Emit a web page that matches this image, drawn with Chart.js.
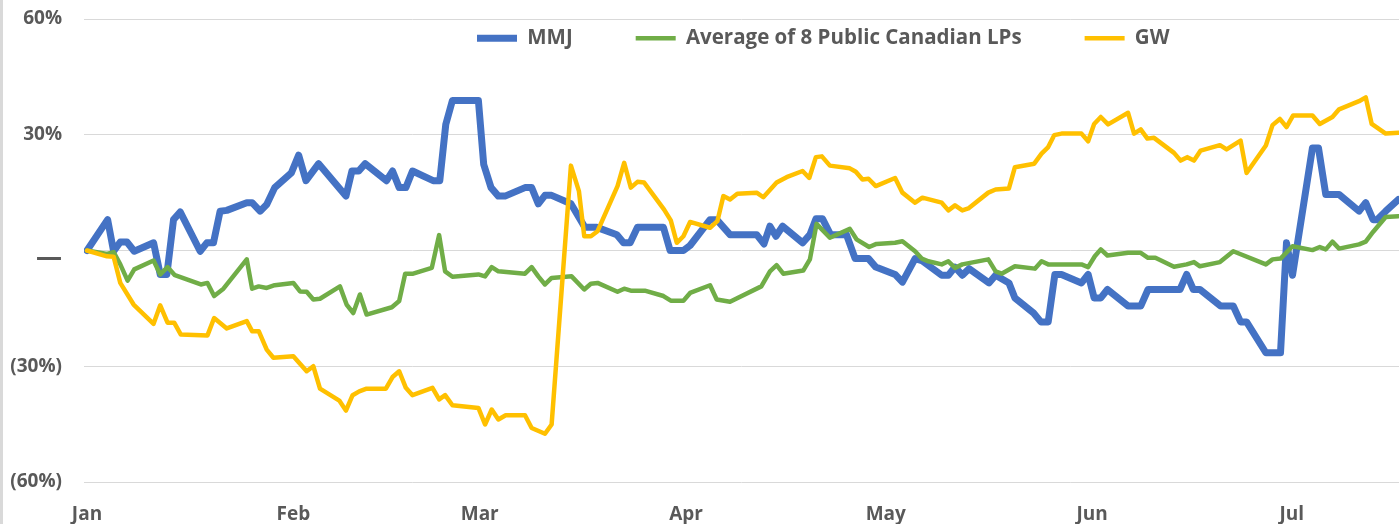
<!DOCTYPE html>
<html>
<head>
<meta charset="utf-8">
<script src="https://cdn.jsdelivr.net/npm/chart.js@4"></script>
<style>
  html, body { margin: 0; padding: 0; background: #fff; }
  #graf { position: relative; width: 1399px; height: 524px; overflow: hidden; }
  #graf::before { content: ''; position: absolute; left: 0; top: 0; width: 3px; height: 100%; background: #d9d9d9; }
</style>
</head>
<body>
<div id="graf"><canvas id="myChart"></canvas></div>
<script>
// x = days since Jan 1, y = % change
var monthDays = [0, 31, 59, 90, 120, 151, 181];
var monthLabels = ["Jan", "Feb", "Mar", "Apr", "May", "Jun", "Jul"];
var yTicks = [-60, -30, 0, 30, 60];

var mmjDays = [0, 3.1, 4, 5, 6, 7.1, 10, 11, 12, 13,
  14, 17, 18, 19, 20, 21, 24, 24.8, 26, 27,
  28.2, 30.7, 31.8, 32.9, 34.8, 38.9, 39.8, 40.8, 41.8, 45,
  45.9, 46.9, 47.9, 48.9, 52, 53, 53.9, 54.9, 58.8, 59.6,
  60.7, 61.8, 62.8, 65.8, 66.8, 67.8, 68.8, 69.8, 72.7, 74.8,
  76.6, 79.6, 80.6, 81.6, 82.7, 86.6, 87.6, 89.6, 90.6, 93.6,
  94.6, 96.6, 100.6, 101.7, 102.6, 103.5, 104.5, 107.5, 108.6, 109.5,
  110.5, 111.7, 114.1, 115.4, 117.4, 118.5, 121.4, 122.5, 124.4, 125.4,
  128.4, 129.4, 130.4, 131.5, 132.5, 135.5, 136.5, 138.5, 139.4, 142.2,
  143.3, 144.4, 145.4, 146.4, 149.4, 150.4, 151.3, 152.3, 153.3, 156.4,
  158.3, 159.4, 164.2, 165.2, 166.2, 167.2, 170.3, 172.2, 173.3, 174.2,
  177.1, 179.3, 180.2, 181.1, 184.1, 185, 186.1, 188.1, 191.1, 192.1,
  193.2, 193.8, 195.1, 197];
var mmjValues = [0, 8.0, -0.2, 2.2, 2.2, -0.2, 2.0, -6.2, -6.2, 8.0,
  10.0, -0.2, 2.0, 2.0, 10.2, 10.4, 12.4, 12.4, 10.2, 11.9,
  16.3, 20.1, 24.7, 18.1, 22.5, 14.1, 20.6, 20.6, 22.5, 18.1,
  20.6, 16.3, 16.3, 20.6, 18.1, 18.1, 32.7, 38.9, 38.9, 22.3,
  16.3, 14.1, 14.1, 16.3, 16.3, 12.1, 14.3, 14.3, 12.1, 6.0,
  6.0, 4.1, 2.0, 2.0, 6.0, 6.0, 0, 0, 1.3, 8.0,
  8.0, 4.1, 4.1, 1.7, 6.3, 3.7, 6.3, 2.0, 4.1, 8.2,
  8.2, 4.1, 4.1, -2.1, -2.1, -4.3, -6.2, -8.2, -2.1, -2.6,
  -6.4, -6.4, -4.3, -6.4, -4.7, -8.4, -6.4, -8.4, -12.3, -16.2,
  -18.5, -18.5, -6.2, -6.2, -8.4, -6.2, -12.3, -12.3, -10.1, -14.4,
  -14.4, -10.1, -10.1, -6.2, -10.1, -10.1, -14.4, -14.4, -18.5, -18.5,
  -26.5, -26.5, 2.0, -6.4, 26.6, 26.6, 14.5, 14.5, 10.2, 12.4,
  8.0, 8.0, 10.2, 13.2];

var avgDays = [0, 3, 4, 5, 6.1, 7.1, 10, 11, 12.1, 13.2,
  17.1, 18.1, 19.1, 20.5, 24, 24.8, 25.8, 27, 28.2, 31,
  32, 33, 34, 35, 38, 39, 40, 41, 42, 45.8,
  46.9, 47.8, 49, 51.8, 52.9, 53.8, 54.9, 58.8, 59.8, 60.8,
  61.8, 65.8, 66.8, 67.8, 68.8, 69.8, 72.8, 74.7, 75.7, 76.7,
  79.7, 80.7, 81.7, 83.8, 86.6, 87.7, 89.6, 90.6, 93.6, 94.6,
  96.6, 101.3, 102.6, 103.6, 104.6, 107.6, 108.6, 109.6, 111.6, 114.6,
  115.6, 117.5, 118.6, 121.4, 122.5, 124.4, 125.4, 126.4, 128.4, 129.4,
  130.4, 131.5, 135.4, 136.5, 137.4, 139.4, 142.4, 143.4, 144.4, 149.4,
  150.4, 151.4, 152.3, 153.3, 156.4, 158.3, 159.4, 160.5, 163.3, 165.2,
  166.3, 167.2, 170.2, 172.2, 177.1, 178.1, 179.3, 181.1, 184.1, 185.2,
  186.1, 187.1, 188.1, 191.1, 192.1, 193.2, 195.1, 197];
var avgValues = [0, -0.9, -0.4, -3.6, -7.8, -4.9, -2.6, -6.2, -4.3, -6.4,
  -8.8, -8.4, -11.8, -9.9, -2.3, -9.9, -9.3, -9.7, -9.0, -8.4,
  -10.6, -10.7, -12.7, -12.5, -9.3, -14.0, -16.2, -11.4, -16.6, -14.7,
  -13.1, -6.0, -6.0, -4.5, 4.0, -5.4, -6.8, -6.2, -6.7, -4.3,
  -5.4, -6.0, -4.3, -6.7, -8.8, -7.1, -6.7, -10.1, -8.6, -8.4,
  -10.7, -9.9, -10.4, -10.4, -11.8, -13.0, -13.0, -11.0, -9.0, -12.7,
  -13.3, -9.3, -5.4, -3.8, -6.0, -5.2, -2.3, 6.9, 3.3, 5.6,
  2.9, 0.9, 1.7, 2.0, 2.4, -0.2, -2.1, -2.8, -3.6, -2.8,
  -4.5, -3.6, -2.3, -5.4, -6.0, -4.1, -4.7, -2.8, -3.6, -3.6,
  -4.3, -1.5, 0.3, -1.3, -0.6, -0.6, -1.9, -1.9, -4.2, -3.6,
  -3.0, -4.1, -3.0, -0.2, -3.6, -2.3, -2.1, 1.1, 0.1, 0.9,
  0.3, 2.3, 0.5, 1.6, 2.3, 4.8, 8.7, 8.9];

var gwDays = [0, 3, 4, 5, 7, 10, 11, 12.1, 13.1, 14.1,
  18.1, 19.1, 21, 24, 24.8, 25.8, 27, 28, 31, 33,
  34, 35, 37.9, 38.9, 39.9, 40.9, 42, 44.9, 45.9, 46.9,
  47.9, 48.9, 51.9, 52.9, 53.8, 54.9, 58.8, 59.8, 60.8, 61.8,
  62.9, 65.8, 66.8, 68.8, 69.8, 72.7, 73.9, 74.7, 75.7, 76.7,
  79.7, 80.7, 81.7, 82.7, 83.7, 86.7, 87.7, 88.6, 89.6, 90.6,
  93.6, 94.7, 95.6, 96.6, 97.7, 100.6, 101.6, 103.6, 105.1, 107.5,
  108.5, 109.5, 110.4, 111.6, 114.6, 115.5, 116.5, 117.4, 118.5, 121.4,
  122.5, 124.4, 125.5, 128.4, 129.4, 130.4, 131.5, 132.4, 135.4, 136.5,
  138.5, 139.4, 142.3, 143.4, 144.4, 145.3, 146.4, 149.4, 150.4, 151.3,
  152.3, 153.4, 156.4, 157.3, 158.3, 159.3, 160.3, 163.3, 164.3, 165.3,
  166.3, 167.3, 170.2, 171.2, 173.3, 174.2, 177.1, 178.1, 179.2, 180.2,
  181.2, 184.1, 185.2, 187.1, 188.1, 191.1, 192.1, 193, 195.1, 197];
var gwValues = [0, -1.5, -1.6, -8.4, -14.0, -19.0, -14.2, -18.7, -18.7, -21.8,
  -22.0, -17.5, -20.2, -18.3, -20.9, -20.9, -25.7, -27.8, -27.4, -31.3,
  -30.0, -35.8, -38.9, -41.5, -37.5, -36.5, -35.8, -35.8, -32.8, -31.3,
  -35.6, -37.5, -35.6, -38.6, -37.5, -40.1, -40.8, -45.1, -41.2, -43.8,
  -42.7, -42.7, -46.0, -47.5, -45.1, 22.0, 15.4, 3.7, 3.7, 5.0,
  16.7, 22.7, 16.3, 17.8, 17.6, 10.6, 7.8, 2.0, 3.7, 7.4,
  5.9, 7.6, 14.1, 13.2, 14.7, 15.0, 13.8, 17.6, 19.0, 20.6,
  18.8, 24.2, 24.4, 22.0, 21.3, 20.4, 18.4, 18.6, 16.7, 18.8,
  15.0, 12.4, 13.7, 12.4, 10.4, 11.7, 10.4, 10.9, 15.0, 15.8,
  16.1, 21.6, 22.5, 25.1, 26.8, 29.9, 30.3, 30.3, 28.3, 32.8,
  34.6, 32.7, 35.7, 30.3, 31.4, 29.0, 29.2, 25.3, 23.3, 24.2,
  23.3, 25.9, 27.3, 26.2, 28.5, 20.1, 27.2, 32.5, 34.1, 32.0,
  35.0, 35.0, 32.8, 34.6, 36.6, 38.7, 39.7, 32.8, 30.3, 30.5];

function toPoints(days, values) {
  return days.map(function (d, i) { return { x: d, y: values[i] }; });
}

var textColor = "#595959";
var fontFamily = "'Open Sans', 'DejaVu Sans', sans-serif";

// legend sits inside the plot area, like the original
var legendInside = {
  id: "legendInside",
  afterLayout: function (chart) {
    var lg = chart.legend;
    lg.left = 414;
    lg.right = 1399;
    lg.width = lg.right - lg.left;
    lg.top = -35;
    lg.bottom = 70;
    lg.height = lg.bottom - lg.top;
  }
};

new Chart("myChart", {
  type: "line",
  data: {
    datasets: [{
      label: "MMJ",
      data: toPoints(mmjDays, mmjValues),
      borderColor: "#4472C4",
      backgroundColor: "#4472C4",
      borderWidth: 7,
      order: 2
    }, {
      label: "Average of 8 Public Canadian LPs",
      data: toPoints(avgDays, avgValues),
      borderColor: "#70AD47",
      backgroundColor: "#70AD47",
      borderWidth: 4.5,
      order: 1
    }, {
      label: "GW",
      data: toPoints(gwDays, gwValues),
      borderColor: "#FFC000",
      backgroundColor: "#FFC000",
      borderWidth: 4.5,
      order: 0
    }]
  },
  options: {
    responsive: true,
    maintainAspectRatio: false,
    animation: false,
    layout: { padding: { top: 19, right: 0, bottom: 0, left: 0 } },
    elements: {
      point: { radius: 0, hoverRadius: 0 },
      line: { tension: 0, borderCapStyle: "round", borderJoinStyle: "round" }
    },
    plugins: {
      tooltip: { enabled: false },
      legend: {
        position: "top",
        align: "start",
        maxHeight: 0.01,
        labels: {
          usePointStyle: true,
          pointStyle: "line",
          pointStyleWidth: 40,
          padding: 63,
          color: textColor,
          font: { family: fontFamily, weight: "bold", size: 20.5 },
          sort: function (a, b) { return a.datasetIndex - b.datasetIndex; }
        }
      }
    },
    scales: {
      x: {
        type: "linear",
        min: -0.45,
        max: 197.1,
        afterBuildTicks: function (scale) {
          scale.ticks = monthDays.map(function (d) { return { value: d }; });
        },
        afterFit: function (scale) { scale.height = 42; },
        grid: { display: false, drawTicks: false },
        border: { display: false },
        ticks: {
          autoSkip: false,
          maxRotation: 0,
          padding: 21,
          color: textColor,
          font: { family: fontFamily, weight: "bold", size: 19 },
          callback: function (v) { return monthLabels[monthDays.indexOf(v)]; }
        }
      },
      y: {
        min: -60,
        max: 60,
        afterBuildTicks: function (scale) {
          scale.ticks = yTicks.map(function (v) { return { value: v }; });
        },
        afterFit: function (scale) {
          scale.width = 84;
          scale.paddingTop = 0;
          scale.paddingBottom = 0;
        },
        grid: { color: "#d9d9d9", lineWidth: 1, drawTicks: false },
        border: { display: false },
        ticks: {
          padding: 22,
          color: textColor,
          font: function (ctx) {
            if (ctx.tick && ctx.tick.value === 0) {
              return { family: fontFamily, weight: "bold", size: 26, lineHeight: "17px" };
            }
            return { family: fontFamily, weight: "bold", size: 19 };
          },
          callback: function (v) {
            if (v === 0) return ["", "—"];
            return v < 0 ? "(" + Math.abs(v) + "%)" : v + "%";
          }
        }
      }
    }
  },
  plugins: [legendInside]
});
</script>
</body>
</html>
